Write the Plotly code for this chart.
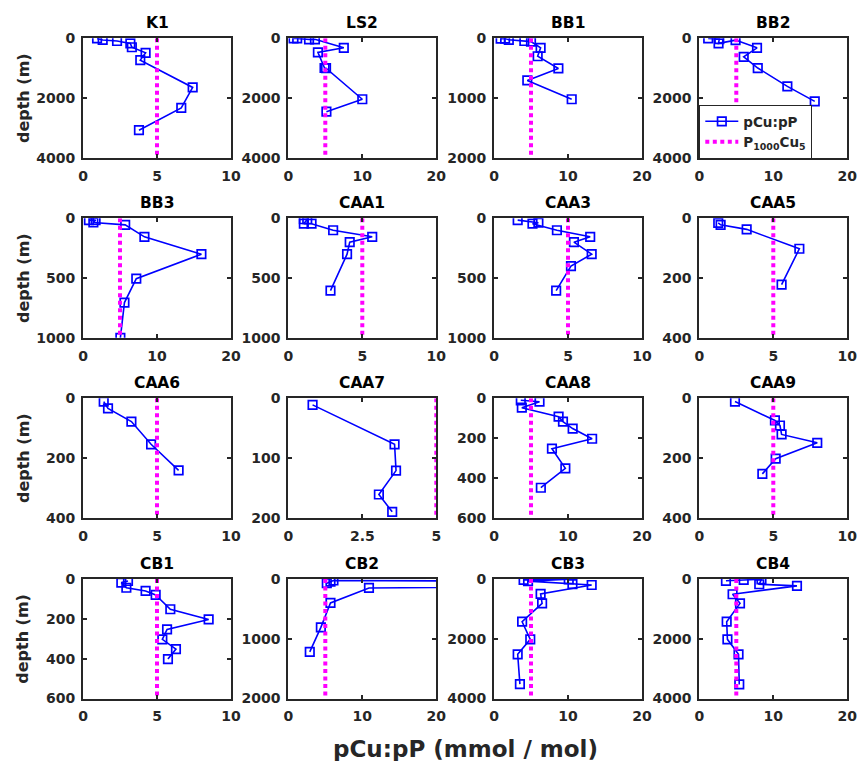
import plotly.graph_objects as go

# ---------------- data ----------------
stations = ["K1", "LS2", "BB1", "BB2", "BB3", "CAA1", "CAA3", "CAA5",
            "CAA6", "CAA7", "CAA8", "CAA9", "CB1", "CB2", "CB3", "CB4"]
x_max = [10, 20, 20, 20, 20, 10, 10, 10, 10, 5, 20, 10, 10, 20, 20, 20]
depth_max = [4000, 4000, 2000, 4000, 1000, 1000, 1000, 400, 400, 200, 600, 400, 600, 2000, 4000, 4000]
depth_step = [2000, 2000, 1000, 2000, 500, 500, 500, 200, 200, 100, 200, 200, 200, 1000, 2000, 2000]
ref_ratio = 5  # P1000Cu5 reference ratio (mmol/mol)

K1_ratio = [0.95, 1.33, 2.3, 3.2, 3.3, 4.23, 3.87, 7.41, 6.64, 3.78]
K1_depth = [5, 55, 90, 170, 300, 485, 730, 1645, 2330, 3075]
LS2_ratio = [0.7, 1.2, 2.8, 3.6, 7.5, 4.0, 4.9, 5.1, 10.0, 5.15]
LS2_depth = [5, 5, 35, 35, 318, 473, 994, 1000, 2040, 2455]
BB1_ratio = [0.9, 1.5, 2.0, 4.1, 5.0, 6.3, 5.9, 8.7, 4.5, 10.5]
BB1_depth = [5, 5, 25, 45, 55, 160, 300, 505, 705, 1020]
BB2_ratio = [1.2, 2.7, 2.6, 4.9, 7.8, 6.0, 7.9, 11.9, 15.6]
BB2_depth = [5, 25, 170, 60, 320, 620, 995, 1610, 2110]
BB3_ratio = [0.8, 1.7, 1.4, 5.7, 8.3, 16.0, 7.2, 5.6, 5.05]
BB3_depth = [15, 15, 35, 55, 155, 300, 505, 705, 1000]
CAA1_ratio = [1.05, 1.28, 1.05, 1.57, 3.03, 5.67, 4.15, 3.97, 2.85]
CAA1_depth = [8, 8, 45, 45, 100, 155, 200, 300, 605]
CAA3_ratio = [1.6, 3.0, 2.6, 4.25, 6.5, 5.4, 6.6, 5.2, 4.2]
CAA3_depth = [15, 37, 45, 100, 155, 200, 300, 400, 605]
CAA5_ratio = [1.28, 1.44, 3.2, 6.76, 5.56]
CAA5_depth = [15, 22, 37, 102, 222]
CAA6_ratio = [1.4, 1.69, 3.27, 4.6, 6.46]
CAA6_depth = [11, 34, 78, 154, 241]
CAA7_ratio = [0.82, 3.59, 3.64, 3.06, 3.51]
CAA7_depth = [11, 77, 121, 161, 190]
CAA8_ratio = [3.62, 6.15, 3.76, 8.73, 9.32, 10.63, 13.26, 7.83, 9.64, 6.33]
CAA8_depth = [10, 17, 47, 92, 117, 152, 203, 253, 352, 449]
CAA9_ratio = [2.41, 5.11, 5.45, 5.56, 7.97, 5.16, 4.26]
CAA9_depth = [11, 74, 91, 121, 149, 202, 253]
CB1_ratio = [3.04, 2.59, 2.93, 4.23, 4.91, 5.9, 8.49, 5.68, 5.36, 6.28, 5.74]
CB1_depth = [10, 18, 44, 60, 80, 152, 203, 253, 303, 352, 402]
CB2_ratio = [5.2, 5.7, 6.1, 100, 10.9, 5.7, 4.4, 2.9]
CB2_depth = [70, 45, 25, 70, 150, 400, 810, 1220]
CB3_ratio = [4.0, 10.1, 4.6, 10.6, 13.2, 6.3, 6.5, 3.8, 4.9, 3.2, 3.5]
CB3_depth = [30, 10, 70, 170, 200, 500, 815, 1430, 2020, 2520, 3520]
CB4_ratio = [3.6, 6.0, 8.4, 8.1, 13.2, 4.5, 5.5, 3.7, 3.8, 5.3, 5.4]
CB4_depth = [60, 30, 10, 175, 230, 510, 815, 1430, 2020, 2520, 3530]

ratios = [K1_ratio, LS2_ratio, BB1_ratio, BB2_ratio, BB3_ratio, CAA1_ratio, CAA3_ratio, CAA5_ratio,
          CAA6_ratio, CAA7_ratio, CAA8_ratio, CAA9_ratio, CB1_ratio, CB2_ratio, CB3_ratio, CB4_ratio]
depths = [K1_depth, LS2_depth, BB1_depth, BB2_depth, BB3_depth, CAA1_depth, CAA3_depth, CAA5_depth,
          CAA6_depth, CAA7_depth, CAA8_depth, CAA9_depth, CB1_depth, CB2_depth, CB3_depth, CB4_depth]

# ---------------- layout geometry (pixels) ----------------
W, H = 859, 761
col_left = [83, 288.3, 494, 699.3]
ax_w = 148
row_top = [38.3, 218.3, 398.3, 579]
ax_h = 119.5

FONT = "DejaVu Sans"
AXC = "#262626"

fig = go.Figure()
layout = dict(
    width=W, height=H, margin=dict(l=0, r=0, t=0, b=0),
    paper_bgcolor="white", plot_bgcolor="white",
    font=dict(family=FONT, size=14, color=AXC),
    showlegend=True,
)
annotations = []

for i, st in enumerate(stations):
    r, c = divmod(i, 4)
    n = "" if i == 0 else str(i + 1)
    x0 = col_left[c] / W
    x1 = (col_left[c] + ax_w) / W
    y1 = 1 - row_top[r] / H
    y0 = 1 - (row_top[r] + ax_h) / H
    xm = x_max[i]
    ym = depth_max[i]
    xt = [0, xm / 2, xm]
    xtt = ["0", ("%g" % (xm / 2)), "%g" % xm]
    yt = list(range(0, ym + 1, depth_step[i]))

    fig.add_trace(go.Scatter(
        x=ratios[i], y=depths[i], mode="lines+markers",
        name="<b>pCu:pP</b>", legendrank=1,
        line=dict(color="#0000FF", width=1.6),
        marker=dict(symbol="square-open", size=8.5, color="#0000FF", line=dict(width=1.7, color="#0000FF")),
        xaxis="x" + n, yaxis="y" + n, showlegend=(i == 0), cliponaxis=True,
    ))
    fig.add_trace(go.Scatter(
        x=[ref_ratio, ref_ratio], y=[0, ym], mode="lines",
        name="<b>P<sub>1000</sub>Cu<sub>5</sub></b>", legendrank=2,
        line=dict(color="#FF00FF", width=4, dash="4px,3.5px"),
        xaxis="x" + n, yaxis="y" + n, showlegend=(i == 0),
    ))

    common = dict(showline=True, linecolor=AXC, linewidth=2, mirror="ticks",
                  ticks="inside", ticklen=4, tickwidth=2, tickcolor=AXC,
                  showgrid=False, zeroline=False, automargin=False,
                  tickfont=dict(family=FONT, size=14, color=AXC, weight="bold"))
    layout["xaxis" + n] = dict(domain=[x0, x1], anchor="y" + n, range=[0, xm],
                               tickvals=xt, ticktext=xtt, ticklabelstandoff=4, **common)
    layout["yaxis" + n] = dict(domain=[y0, y1], anchor="x" + n, range=[ym, 0],
                               tickvals=yt, ticktext=[str(v) for v in yt], ticklabelstandoff=3, **common)

    annotations.append(dict(
        text="<b>%s</b>" % st, xref="paper", yref="paper",
        x=(col_left[c] + ax_w / 2) / W, y=1 - (row_top[r] - 15) / H,
        xanchor="center", yanchor="middle", showarrow=False,
        font=dict(family=FONT, size=15.5, color="black"),
    ))
    if c == 0:
        annotations.append(dict(
            text="<b>depth (m)</b>", xref="paper", yref="paper",
            x=23 / W, y=1 - (row_top[r] + ax_h / 2) / H, textangle=-90,
            xanchor="center", yanchor="middle", showarrow=False,
            font=dict(family=FONT, size=16, color=AXC),
        ))

annotations.append(dict(
    text="<b>pCu:pP (mmol / mol)</b>", xref="paper", yref="paper",
    x=465 / W, y=1 - 749 / H, xanchor="center", yanchor="middle", showarrow=False,
    font=dict(family=FONT, size=23, color=AXC),
))
layout["annotations"] = annotations
layout["legend"] = dict(
    x=699.3 / W, y=1 - 105 / H, xanchor="left", yanchor="top",
    bgcolor="white", bordercolor=AXC, borderwidth=1,
    font=dict(family=FONT, size=13.5, color=AXC),
    itemwidth=33, tracegroupgap=0,
)
fig.update_layout(**layout)
fig.write_html("out.html")
